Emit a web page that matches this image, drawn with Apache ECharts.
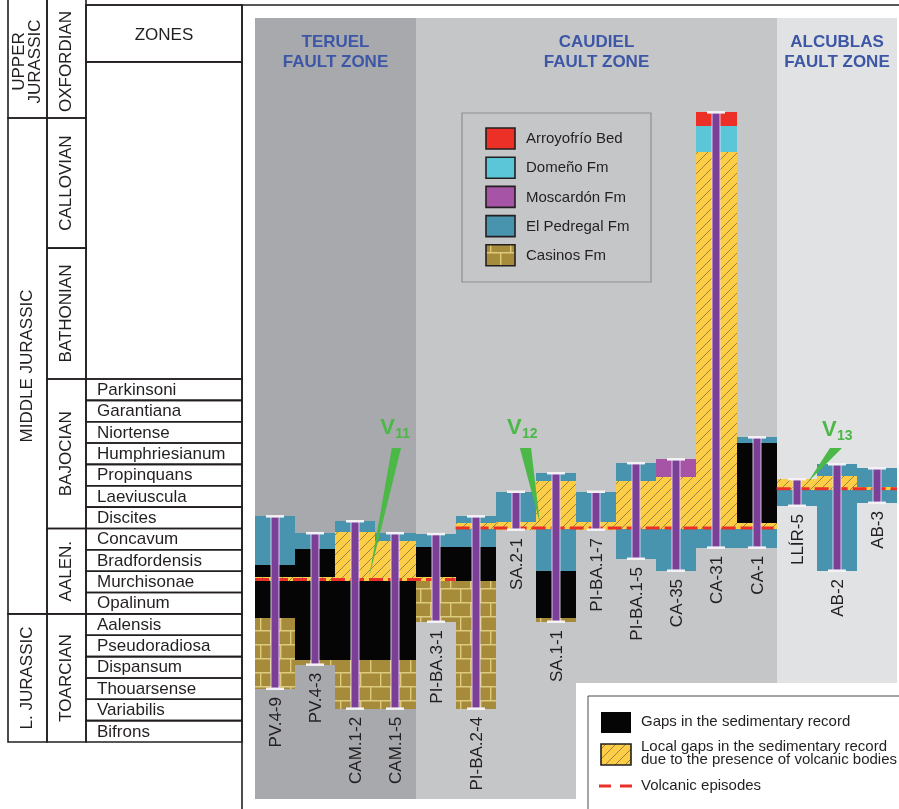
<!DOCTYPE html>
<html>
<head>
<meta charset="utf-8">
<script src="https://cdn.jsdelivr.net/npm/echarts@6/dist/echarts.min.js"></script>
<style>
  html, body { margin: 0; padding: 0; background: #ffffff; }
  #chart { width: 899px; height: 809px; }
</style>
</head>
<body>
<div id="chart"></div>
<script>
// ---------------------------------------------------------------------------
// Biostratigraphic scale (values in ammonite-zone units, 0 = base of Bifrons)
// ---------------------------------------------------------------------------
const zoneNames = ['Bifrons', 'Variabilis', 'Thouarsense', 'Dispansum', 'Pseudoradiosa', 'Aalensis',
  'Opalinum', 'Murchisonae', 'Bradfordensis', 'Concavum', 'Discites', 'Laeviuscula', 'Propinquans',
  'Humphriesianum', 'Niortense', 'Garantiana', 'Parkinsoni'];
const stageNames = ['TOARCIAN', 'AALEN.', 'BAJOCIAN', 'BATHONIAN', 'CALLOVIAN', 'OXFORDIAN'];
const stageBase = [0, 6, 10, 17, 23.13, 29.22];
const stageTop = [6, 10, 17, 23.13, 29.22, 40];
const eraNames = ['L. JURASSIC', 'MIDDLE JURASSIC', 'UPPER\nJURASSIC'];
const eraBase = [0, 6, 29.22];
const eraTop = [6, 29.22, 40];
const zonesHeader = 'ZONES';
const zonesHeaderBase = 31.85;

// ---------------------------------------------------------------------------
// Stratigraphic sections
// ---------------------------------------------------------------------------
const sectionNames = ['PV.4-9', 'PV.4-3', 'CAM.1-2', 'CAM.1-5', 'PI-BA.3-1', 'PI-BA.2-4', 'SA.2-1',
  'SA.1-1', 'PI-BA.1-7', 'PI-BA.1-5', 'CA-35', 'CA-31', 'CA-1', 'LLÍR-5', 'AB-2', 'AB-3'];
const sectionBase = [2.48, 3.61, 1.55, 1.55, 5.62, 1.55, 9.93, 5.62, 9.93, 8.57, 8.01, 9.09, 9.09, 11.05, 8.01, 11.19];
const sectionTop = [10.58, 9.79, 10.35, 9.79, 9.75, 10.58, 11.73, 12.6, 11.73, 13.07, 13.25, 29.5, 14.28, 12.32, 13.02, 12.83];

// Units per section: [section index, base, top]
const casinosFm = [[0, 2.48, 5.81], [1, 3.61, 3.84], [2, 1.55, 3.84], [3, 1.55, 3.84], [4, 5.62, 7.52],
  [5, 1.55, 7.52], [7, 5.62, 5.81]];
const elPedregalFm = [[0, 8.29, 10.58], [1, 9.04, 9.79], [2, 9.83, 10.35], [3, 9.41, 9.79], [4, 9.13, 9.75],
  [5, 9.13, 9.96], [5, 10.26, 10.58], [6, 10.3, 11.73], [7, 8.01, 9.96], [7, 12.22, 12.6], [8, 10.3, 11.73],
  [9, 8.57, 9.96], [9, 12.22, 13.07], [10, 8.01, 9.96], [11, 9.09, 9.96], [12, 9.09, 9.96], [12, 14.0, 14.28],
  [13, 11.05, 11.8], [14, 8.01, 11.8], [14, 12.46, 13.02], [15, 11.19, 11.8], [15, 11.94, 12.83]];
const moscardonFm = [[10, 12.41, 13.25]];
const domenoFm = [[11, 27.63, 28.85]];
const arroyofrioBed = [[11, 28.85, 29.5]];
const sedimentaryGaps = [[0, 5.81, 7.52], [0, 7.72, 8.29], [1, 3.84, 7.52], [1, 7.72, 9.04], [2, 3.84, 7.52],
  [3, 3.84, 7.52], [4, 7.72, 9.13], [5, 7.52, 9.13], [7, 5.81, 8.01], [12, 10.26, 14.0]];
const volcanicGaps = [[0, 7.52, 7.72], [1, 7.52, 7.72], [2, 7.52, 9.83], [3, 7.52, 9.41], [4, 7.52, 7.72],
  [5, 9.96, 10.26], [6, 9.93, 10.3], [7, 9.96, 12.22], [8, 9.93, 10.3], [9, 9.96, 12.22], [10, 9.96, 12.41],
  [11, 9.96, 27.63], [12, 9.96, 10.26], [13, 11.8, 12.32], [14, 11.8, 12.46], [15, 11.8, 11.94]];

// Volcanic episodes: [first section, last section + 1, level]
const volcanicEpisodes = [[0, 5, 7.61], [5, 13, 10.02], [13, 16, 11.86]];

// Volcanic bodies V11-V13: label anchor and pointer (section-axis, zone units)
const volcanicBodyNames = ['11', '12', '13'];
const volcanicBodyLabel = [[3.12, 14.7], [6.28, 14.7], [14.13, 14.6]];
const volcanicBodyPointer = [
  [[3.41, 13.77], [3.64, 13.77], [2.84, 7.68]],
  [[6.6, 13.77], [6.88, 13.77], [7.1, 10.26]],
  [[14.33, 13.77], [14.63, 13.77], [13.78, 12.18]]
];

// Fault zones: [title, first section, last section + 1]
const faultZoneNames = ['TERUEL\nFAULT ZONE', 'CAUDIEL\nFAULT ZONE', 'ALCUBLAS\nFAULT ZONE'];
const faultZoneStart = [0, 4, 13];
const faultZoneEnd = [4, 13, 16];

// Legend texts
const formationNames = ['Arroyofrío Bed', 'Domeño Fm', 'Moscardón Fm', 'El Pedregal Fm', 'Casinos Fm'];
const gapLegendNames = ['Gaps in the sedimentary record',
  'Local gaps in the sedimentary record\ndue to the presence of volcanic bodies', 'Volcanic episodes'];

// ---------------------------------------------------------------------------
// Styling
// ---------------------------------------------------------------------------
const FONT = '"Liberation Sans", Arial, sans-serif';
const INK = '#231f20';
const C = {
  pedregal: '#4893ae', moscardon: '#a655a6', domeno: '#5cc6d9', arroyofrio: '#ec2f27',
  gap: '#050505', volcYellow: '#fdcd46', volcHatch: '#8a7b45', casinos: '#a68b3b', mortar: '#dccb7e',
  section: '#7c3f98', red: '#e9312a', green: '#4bb848', title: '#3d56a6',
  faultBg: ['#a7a9ac', '#c5c6c8', '#e1e2e4']
};

function hatchCanvas() {
  const c = document.createElement('canvas');
  c.width = 10; c.height = 10;
  const g = c.getContext('2d');
  g.fillStyle = C.volcYellow; g.fillRect(0, 0, 10, 10);
  g.strokeStyle = C.volcHatch; g.lineWidth = 0.9;
  g.beginPath();
  g.moveTo(0, 10); g.lineTo(10, 0);
  g.moveTo(-5, 5); g.lineTo(5, -5);
  g.moveTo(5, 15); g.lineTo(15, 5);
  g.stroke();
  return c;
}
function brickCanvas() {
  const c = document.createElement('canvas');
  c.width = 40; c.height = 28;
  const g = c.getContext('2d');
  g.fillStyle = C.casinos; g.fillRect(0, 0, 40, 28);
  g.strokeStyle = C.mortar; g.lineWidth = 1.4;
  g.beginPath();
  g.moveTo(0, 0.7); g.lineTo(40, 0.7);
  g.moveTo(0, 14.7); g.lineTo(40, 14.7);
  g.moveTo(0.7, 0); g.lineTo(0.7, 14);
  g.moveTo(20.7, 0); g.lineTo(20.7, 14);
  g.moveTo(10.7, 14); g.lineTo(10.7, 28);
  g.moveTo(30.7, 14); g.lineTo(30.7, 28);
  g.stroke();
  return c;
}
const hatchFill = { image: hatchCanvas(), repeat: 'repeat' };
const brickFill = { image: brickCanvas(), repeat: 'repeat' };

// Vertical scale: zone base (Bifrons) at y=742 px, 21.353 px per zone, grid from 5 to 809 px
const GRID_TOP = 5, GRID_H = 804, ZONE_PX = 21.353, BASE_PX = 742;
const Y_MAX = (BASE_PX - GRID_TOP) / ZONE_PX;
const Y_MIN = -(GRID_TOP + GRID_H - BASE_PX) / ZONE_PX;

// ---------------------------------------------------------------------------
// Table of the time scale (x: 0-1 era, 1-2 stage, 2-6 zone)
// ---------------------------------------------------------------------------
const tableCells = [];
eraNames.forEach((n, i) => tableCells.push({ x0: 0, x1: 1, base: eraBase[i], top: eraTop[i], text: n, kind: 'rot' }));
stageNames.forEach((n, i) => tableCells.push({ x0: 1, x1: 2, base: stageBase[i], top: stageTop[i], text: n, kind: 'rot' }));
zoneNames.forEach((n, i) => tableCells.push({ x0: 2, x1: 6, base: i, top: i + 1, text: n, kind: 'zone' }));
tableCells.push({ x0: 2, x1: 6, base: zoneNames.length, top: zonesHeaderBase, text: '', kind: 'zone' });
tableCells.push({ x0: 2, x1: 6, base: zonesHeaderBase, top: Y_MAX, text: zonesHeader, kind: 'head' });

const tableSeries = {
  type: 'custom', xAxisIndex: 0, yAxisIndex: 0, silent: true, clip: false, z: 5,
  data: tableCells.map(c => [c.x0, c.base]),
  renderItem(params, api) {
    const cell = tableCells[params.dataIndex];
    const p0 = api.coord([cell.x0, cell.top]);
    const p1 = api.coord([cell.x1, cell.base]);
    const children = [{
      type: 'rect', shape: { x: p0[0], y: p0[1], width: p1[0] - p0[0], height: p1[1] - p0[1] },
      style: { fill: 'none', stroke: INK, lineWidth: 1.6 }
    }];
    if (cell.text) {
      const vis0 = api.coord([cell.x0, Math.min(cell.top, Y_MAX)]);
      const cy = (vis0[1] + p1[1]) / 2;
      if (cell.kind === 'rot') {
        children.push({ type: 'text', x: (p0[0] + p1[0]) / 2, y: cy, rotation: Math.PI / 2,
          style: { text: cell.text, font: '17px ' + FONT, fill: INK, align: 'center', verticalAlign: 'middle', lineHeight: 16 } });
      } else if (cell.kind === 'zone') {
        children.push({ type: 'text', x: p0[0] + 11, y: cy + 0.5,
          style: { text: cell.text, font: '17px ' + FONT, fill: INK, align: 'left', verticalAlign: 'middle' } });
      } else {
        children.push({ type: 'text', x: (p0[0] + p1[0]) / 2, y: cy + 2,
          style: { text: cell.text, font: '17px ' + FONT, fill: INK, align: 'center', verticalAlign: 'middle' } });
      }
    }
    return { type: 'group', children };
  }
};

// ---------------------------------------------------------------------------
// Section panel series
// ---------------------------------------------------------------------------
const BG_TOP = 18, BG_BOTTOM = 799;
const faultBgSeries = {
  type: 'custom', xAxisIndex: 1, yAxisIndex: 1, silent: true, clip: false, z: 0,
  data: faultZoneNames.map((n, i) => [faultZoneStart[i], faultZoneEnd[i]]),
  renderItem(params, api) {
    const i = params.dataIndex;
    const x0 = Math.round(api.coord([api.value(0), 0])[0]);
    const x1 = Math.round(api.coord([api.value(1), 0])[0]);
    return { type: 'group', children: [
      { type: 'rect', shape: { x: x0, y: BG_TOP, width: x1 - x0, height: BG_BOTTOM - BG_TOP }, style: { fill: C.faultBg[i] } },
      { type: 'text', x: (x0 + x1) / 2, y: 32, z2: 5,
        style: { text: faultZoneNames[i], font: 'bold 17px ' + FONT, fill: C.title, align: 'center', verticalAlign: 'top', lineHeight: 20 } }
    ] };
  }
};

function layerSeries(data, fill, z) {
  return {
    type: 'custom', xAxisIndex: 1, yAxisIndex: 1, silent: true, clip: false, z: z || 2,
    data,
    renderItem(params, api) {
      const c = api.value(0), b = api.value(1), t = api.value(2);
      const p0 = api.coord([c, t]), p1 = api.coord([c + 1, b]);
      const x0 = Math.round(p0[0]), x1 = Math.round(p1[0]);
      const y0 = Math.round(p0[1]), y1 = Math.round(p1[1]);
      return { type: 'rect', shape: { x: x0, y: y0, width: x1 - x0, height: Math.max(1, y1 - y0) }, style: { fill } };
    }
  };
}

const volcanicLineSeries = {
  type: 'custom', xAxisIndex: 1, yAxisIndex: 1, silent: true, clip: false, z: 3,
  data: volcanicEpisodes,
  renderItem(params, api) {
    const a = api.coord([api.value(0), api.value(2)]);
    const b = api.coord([api.value(1), api.value(2)]);
    return { type: 'line', shape: { x1: a[0], y1: a[1], x2: b[0], y2: b[1] },
      style: { stroke: C.red, lineWidth: 3, lineDash: [14, 5] } };
  }
};

const sectionSeries = {
  type: 'custom', xAxisIndex: 1, yAxisIndex: 1, silent: true, clip: false, z: 4,
  data: sectionNames.map((n, i) => [i + 0.5, sectionBase[i], sectionTop[i]]),
  renderItem(params, api) {
    const i = params.dataIndex;
    const top = api.coord([api.value(0), api.value(2)]);
    const bot = api.coord([api.value(0), api.value(1)]);
    const cx = Math.round(top[0]);
    return { type: 'group', children: [
      { type: 'rect', shape: { x: cx - 4, y: top[1], width: 8, height: bot[1] - top[1] },
        style: { fill: C.section, stroke: 'rgba(235,225,245,0.85)', lineWidth: 1 } },
      { type: 'rect', shape: { x: cx - 9, y: top[1] - 1, width: 18, height: 2.5 }, style: { fill: '#f4f2f6' } },
      { type: 'rect', shape: { x: cx - 9, y: bot[1] - 1.5, width: 18, height: 2.5 }, style: { fill: '#f4f2f6' } },
      { type: 'text', x: cx + 1, y: bot[1] + 8, rotation: Math.PI / 2,
        style: { text: sectionNames[i], font: '17px ' + FONT, fill: INK, align: 'right', verticalAlign: 'middle' } }
    ] };
  }
};

const volcanicBodySeries = {
  type: 'custom', xAxisIndex: 1, yAxisIndex: 1, silent: true, clip: false, z: 6,
  data: volcanicBodyLabel,
  renderItem(params, api) {
    const i = params.dataIndex;
    const lp = api.coord(volcanicBodyLabel[i]);
    const pts = volcanicBodyPointer[i].map(p => api.coord(p));
    return { type: 'group', children: [
      { type: 'polygon', shape: { points: pts }, style: { fill: C.green } },
      { type: 'text', x: lp[0], y: lp[1],
        style: { text: 'V', font: 'bold 22px ' + FONT, fill: C.green, align: 'left', verticalAlign: 'middle' } },
      { type: 'text', x: lp[0] + 15, y: lp[1] + 6,
        style: { text: volcanicBodyNames[i], font: 'bold 14px ' + FONT, fill: C.green, align: 'left', verticalAlign: 'middle' } }
    ] };
  }
};

// ---------------------------------------------------------------------------
// Legends
// ---------------------------------------------------------------------------
const formationFills = [C.arroyofrio, C.domeno, C.moscardon, C.pedregal, brickFill];
const legendGraphics = [];
legendGraphics.push({ type: 'rect', shape: { x: 462, y: 113, width: 189, height: 169 },
  style: { fill: 'none', stroke: '#8e8f91', lineWidth: 1.2 }, z: 50 });
formationNames.forEach((n, i) => {
  const y = 128 + i * 29.2;
  legendGraphics.push({ type: 'rect', shape: { x: 486, y: y, width: 29, height: 21 },
    style: { fill: formationFills[i], stroke: INK, lineWidth: 1.6 }, z: 50 });
  legendGraphics.push({ type: 'text', x: 526, y: y + 11,
    style: { text: n, font: '15px ' + FONT, fill: INK, align: 'left', verticalAlign: 'middle' }, z: 50 });
});
// lower legend panel
legendGraphics.push({ type: 'rect', shape: { x: 576, y: 683, width: 323, height: 126 }, style: { fill: '#ffffff' }, z: 40 });
legendGraphics.push({ type: 'rect', shape: { x: 588, y: 696, width: 330, height: 140 },
  style: { fill: 'none', stroke: '#4a4a4a', lineWidth: 1 }, z: 50 });
legendGraphics.push({ type: 'rect', shape: { x: 601, y: 712, width: 30, height: 21 }, style: { fill: C.gap }, z: 50 });
legendGraphics.push({ type: 'rect', shape: { x: 601, y: 744, width: 30, height: 21 },
  style: { fill: hatchFill, stroke: INK, lineWidth: 1.6 }, z: 50 });
legendGraphics.push({ type: 'line', shape: { x1: 599, y1: 786, x2: 633, y2: 786 },
  style: { stroke: C.red, lineWidth: 3, lineDash: [12, 9] }, z: 50 });
[722, 753, 786].forEach((y, i) => {
  legendGraphics.push({ type: 'text', x: 641, y: y,
    style: { text: gapLegendNames[i], font: '15px ' + FONT, fill: INK, align: 'left', verticalAlign: 'middle', lineHeight: 13 }, z: 50 });
});
// frame lines of the figure
legendGraphics.push({ type: 'line', shape: { x1: 86, y1: GRID_TOP, x2: 899, y2: GRID_TOP }, style: { stroke: INK, lineWidth: 1.6 }, z: 50 });
legendGraphics.push({ type: 'line', shape: { x1: 242, y1: GRID_TOP, x2: 242, y2: 809 }, style: { stroke: INK, lineWidth: 1.6 }, z: 50 });

// ---------------------------------------------------------------------------
const chart = echarts.init(document.getElementById('chart'), null, { renderer: 'canvas' });
const hiddenAxis = { show: false, axisLine: { show: false }, splitLine: { show: false }, axisTick: { show: false }, axisLabel: { show: false } };
chart.setOption({
  animation: false,
  backgroundColor: '#ffffff',
  grid: [
    { left: 8, top: GRID_TOP, width: 234, height: GRID_H },
    { left: 255, top: GRID_TOP, width: 642, height: GRID_H }
  ],
  xAxis: [
    Object.assign({ type: 'value', gridIndex: 0, min: 0, max: 6 }, hiddenAxis),
    Object.assign({ type: 'value', gridIndex: 1, min: 0, max: sectionNames.length }, hiddenAxis)
  ],
  yAxis: [
    Object.assign({ type: 'value', gridIndex: 0, min: Y_MIN, max: Y_MAX }, hiddenAxis),
    Object.assign({ type: 'value', gridIndex: 1, min: Y_MIN, max: Y_MAX }, hiddenAxis)
  ],
  graphic: legendGraphics,
  series: [
    tableSeries,
    faultBgSeries,
    layerSeries(casinosFm, brickFill),
    layerSeries(sedimentaryGaps, C.gap),
    layerSeries(elPedregalFm, C.pedregal),
    layerSeries(moscardonFm, C.moscardon),
    layerSeries(domenoFm, C.domeno),
    layerSeries(arroyofrioBed, C.arroyofrio),
    layerSeries(volcanicGaps, hatchFill),
    volcanicLineSeries,
    sectionSeries,
    volcanicBodySeries
  ]
});
</script>
</body>
</html>
